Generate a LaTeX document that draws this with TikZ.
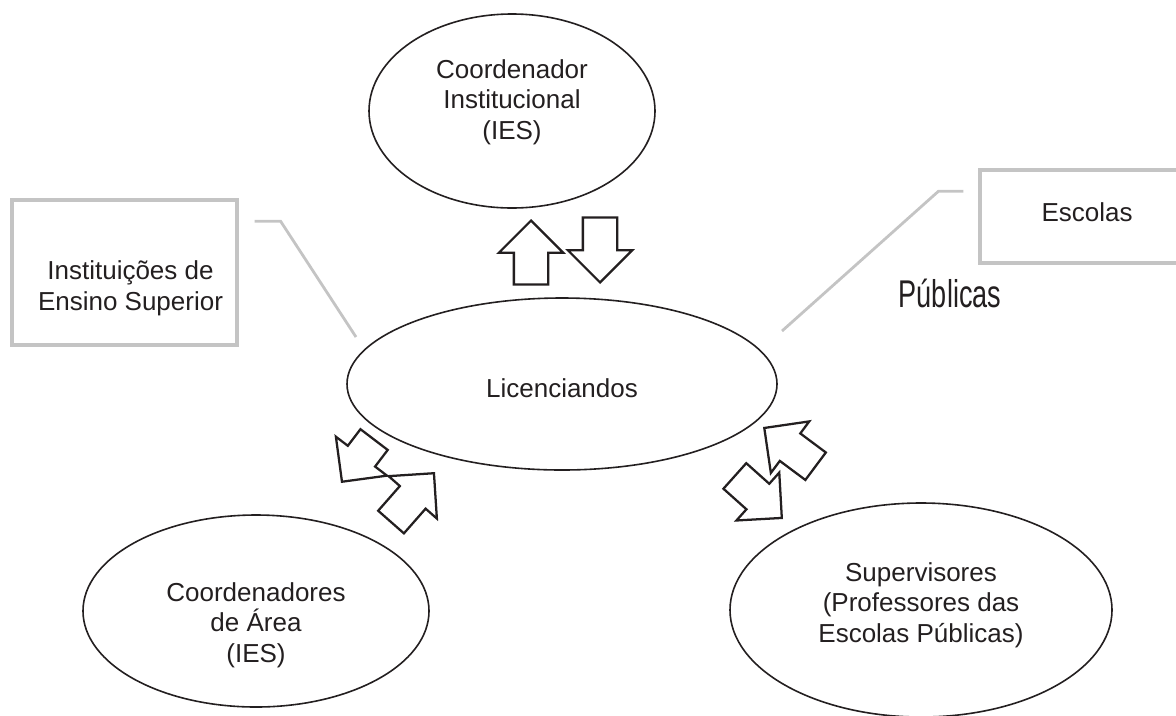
\documentclass[tikz,border=0pt]{standalone}
\usepackage{fontspec}
\setmainfont{Liberation Sans}
\usepackage{graphicx}
\usepackage{tikz}
\usetikzlibrary{shapes,arrows,positioning,calc,arrows.meta}
\definecolor{ink}{HTML}{231F20}
\definecolor{boxgray}{HTML}{C4C4C4}

\begin{document}
\begin{tikzpicture}[x=0.75pt,y=-0.75pt,
    every node/.style={text=ink,font=\fontsize{19.5}{23}\selectfont,align=center},
    actor/.style={draw=ink,ellipse,line width=1.2pt,inner sep=0pt},
    callout/.style={draw=boxgray,line width=2.5pt,inner sep=0pt},
    leader/.style={draw=boxgray,line width=2.1pt},
    flow/.style={draw=ink,single arrow,line width=1.7pt,inner xsep=0pt,inner ysep=12pt,
        single arrow head extend=11.25pt,anchor=tip}]
    \useasboundingbox (0,0) rectangle (1176,715);
    \node[actor,minimum width=214.5pt,minimum height=145.5pt] (coord) at (512,111) {};
    \node[actor,minimum width=322.5pt,minimum height=129pt] (lic) at (562,384) {};
    \node[actor,minimum width=259.5pt,minimum height=144pt] (area) at (256,611) {};
    \node[actor,minimum width=286.5pt,minimum height=160.5pt] (sup) at (921,610) {};
    \node[callout,minimum width=168.75pt,minimum height=108.75pt] (ies) at (124.5,272.5) {};
    \node[callout,minimum width=160.5pt,minimum height=69.75pt] (esc) at (1087,216.5) {};
    \node (coordTxt) at ([shift={(0,-9)}]coord.center) {Coordenador\\Institucional\\(IES)};
    \node (licTxt) at ([shift={(0,4)}]lic.center) {Licenciandos};
    \node (areaTxt) at ([shift={(0,14)}]area.center) {Coordenadores\\de Área\\(IES)};
    \node (supTxt) at ([shift={(0,-5)}]sup.center) {Supervisores\\(Professores das\\Escolas Públicas)};
    \node (iesTxt) at ([shift={(6,16)}]ies.center) {Instituições de\\Ensino Superior};
    \node (escTxt) at ([shift={(0,-4)}]esc.center) {Escolas};
    \node (pub) at (950,293) {\fontsize{29}{30}\selectfont\scalebox{0.7}[1]{Públicas}};
    \coordinate (iesFoot) at ([shift={(16,23)}]ies.north east);
    \coordinate (iesEnd) at (356,337);
    \coordinate (escFoot) at ([shift={(-15,23)}]esc.north west);
    \coordinate (escEnd) at (782,331);
    \draw[leader] (iesFoot) -- ++(26,0) -- (iesEnd);
    \draw[leader] (escFoot) -- ++(-25,0) -- (escEnd);
    \node[flow,minimum height=48pt,rotate=90] (upCoord) at (531,219) {};
    \node[flow,minimum height=48.75pt,rotate=-90] (downLic) at (600,284) {};
    \node[flow,minimum height=39.75pt,rotate=232.7] (toArea) at (341,483) {};
    \node[flow,minimum height=48.75pt,rotate=48.7] (fromArea) at (435,472) {};
    \node[flow,minimum height=48pt,rotate=143.3] (fromSup) at (763,427) {};
    \node[flow,minimum height=47.25pt,rotate=-41.8] (toSup) at (783,519) {};
\end{tikzpicture}
\end{document}
